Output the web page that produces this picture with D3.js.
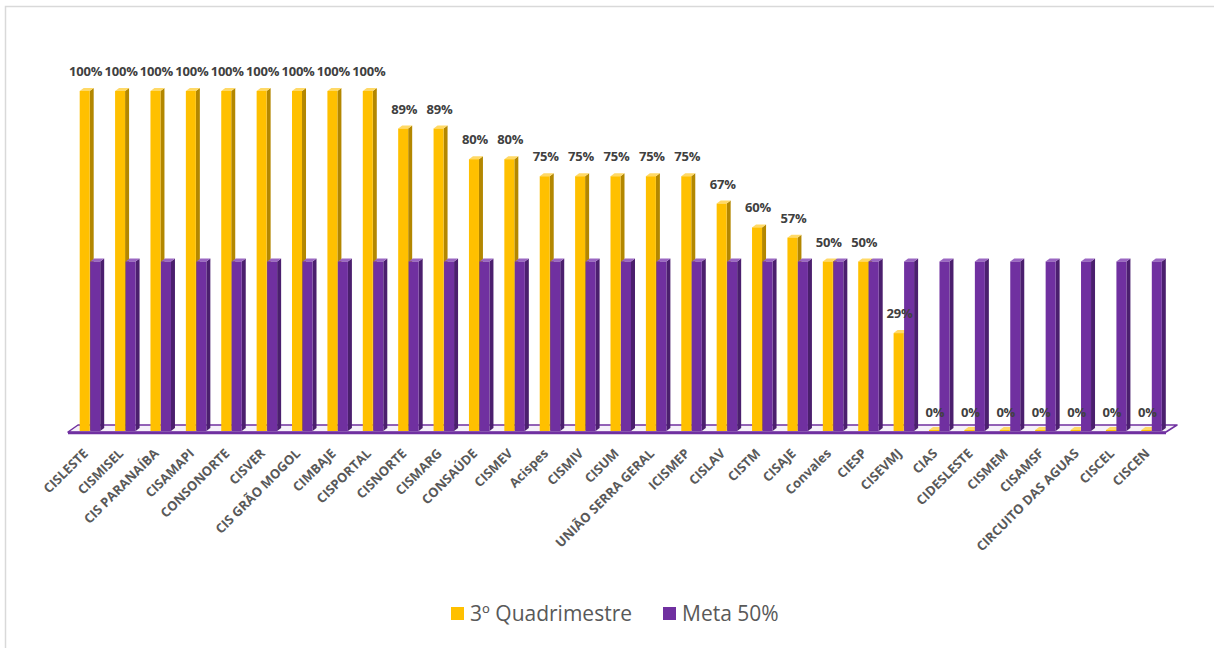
<!DOCTYPE html>
<html>
<head>
<meta charset="utf-8">
<script src="https://cdn.jsdelivr.net/npm/d3@7"></script>
<style>
  body { margin: 0; background: #fff; }
  svg { display: block; font-family: "Open Sans", "Noto Sans", sans-serif; }
</style>
</head>
<body>
<div id="chart"></div>
<script>
// Chart data
const categories = [
    "CISLESTE", "CISMISEL", "CIS PARANAÍBA", "CISAMAPI", "CONSONORTE", "CISVER",
    "CIS GRÃO MOGOL", "CIMBAJE", "CISPORTAL", "CISNORTE", "CISMARG", "CONSAÚDE",
    "CISMEV", "Acispes", "CISMIV", "CISUM", "UNIÃO SERRA GERAL", "ICISMEP",
    "CISLAV", "CISTM", "CISAJE", "Convales", "CIESP", "CISEVMJ", "CIAS",
    "CIDESLESTE", "CISMEM", "CISAMSF", "CIRCUITO DAS AGUAS", "CISCEL", "CISCEN"
];
const quadrimestre = [
    100, 100, 100, 100, 100, 100, 100, 100, 100, 89, 89, 80, 80, 75, 75, 75, 75, 75,
    67, 60, 57, 50, 50, 29, 0, 0, 0, 0, 0, 0, 0
];
const meta = categories.map(() => 50);
const seriesNames = ["3º Quadrimestre", "Meta 50%"];

const colors = {
    "3º Quadrimestre": { front: "#FFC000", side: "#B38700", top: "#FFD966" },
    "Meta 50%": { front: "#7030A0", side: "#4B1F6E", top: "#9A66C2" }
};

const width = 1214, height = 648;
const depthX = 4, depthY = 3;

const svg = d3.select("#chart")
    .append("svg")
    .attr("width", width)
    .attr("height", height);

// chart frame
svg.append("rect")
    .attr("x", 5.5).attr("y", 6.5)
    .attr("width", 1240).attr("height", 680)
    .attr("fill", "#fff")
    .attr("stroke", "#D9D9D9")
    .attr("stroke-width", 1.5);

// scales
const x0 = d3.scaleBand()
    .domain(categories)
    .range([73, 1170]);
const x1 = d3.scaleBand()
    .domain(seriesNames)
    .range([x0.bandwidth() / 2 - 11, x0.bandwidth() / 2 + 10]);
const y = d3.scaleLinear().domain([0, 100]).range([432, 91]);

// floor
const floorFront = y(0);
svg.append("path")
    .attr("d", `M68,${floorFront} L1166,${floorFront} L1177,${floorFront - 7} L78,${floorFront - 7} Z`)
    .attr("fill", "#F6F1FA")
    .attr("stroke", "#7030A0")
    .attr("stroke-width", 1.5)
    .attr("stroke-linejoin", "round");
svg.append("line")
    .attr("x1", 68).attr("x2", 1166)
    .attr("y1", floorFront + 1).attr("y2", floorFront + 1)
    .attr("stroke", "#7030A0")
    .attr("stroke-width", 2.5);

// bars
const rows = categories.map((c, i) => ({
    cat: c,
    values: [
        { key: seriesNames[0], value: quadrimestre[i] },
        { key: seriesNames[1], value: meta[i] }
    ]
}));

const groups = svg.append("g")
    .selectAll("g")
    .data(rows)
    .join("g")
    .attr("transform", d => `translate(${x0(d.cat)},0)`);

const bars = groups.selectAll("g")
    .data(d => d.values)
    .join("g");

const bw = x1.bandwidth() - 0.5;
const base = y(0) - 1;

bars.each(function(d) {
    const g = d3.select(this);
    const bx = x1(d.key);
    const top = Math.min(y(d.value), base - 1);
    const c = colors[d.key];
    // side face
    g.append("path")
        .attr("d", `M${bx + bw},${base} L${bx + bw},${top} L${bx + bw + depthX},${top - depthY} L${bx + bw + depthX},${base - depthY} Z`)
        .attr("fill", c.side);
    // top face
    g.append("path")
        .attr("d", `M${bx},${top} L${bx + bw},${top} L${bx + bw + depthX},${top - depthY} L${bx + depthX},${top - depthY} Z`)
        .attr("fill", c.top);
    // front face
    g.append("rect")
        .attr("x", bx)
        .attr("y", top)
        .attr("width", bw)
        .attr("height", base - top)
        .attr("fill", c.front);
});

// value labels for 3º Quadrimestre
groups.append("text")
    .attr("x", d => x1(seriesNames[0]) + bw / 2 + 1)
    .attr("y", d => y(d.values[0].value) - 15)
    .attr("text-anchor", "middle")
    .attr("fill", "#404040")
    .style("font-size", "13px")
    .style("font-weight", "bold")
    .style("letter-spacing", "-0.2px")
    .text(d => `${d.values[0].value}%`);

// category axis labels
const axisG = svg.append("g")
    .attr("transform", `translate(0,${floorFront + 14})`)
    .call(d3.axisBottom(x0).tickSize(0).tickPadding(0));
axisG.select(".domain").remove();
axisG.selectAll("text")
    .attr("transform", "translate(-5,5) rotate(-45)")
    .attr("dx", "0")
    .attr("dy", "0.35em")
    .attr("text-anchor", "end")
    .attr("fill", "#595959")
    .style("font-size", "13px")
    .style("font-weight", "bold")
    .style("font-family", "'Open Sans', sans-serif");

// legend
const legendData = [
    { key: seriesNames[0], x: 451 },
    { key: seriesNames[1], x: 663 }
];
const legend = svg.append("g");
legendData.forEach(d => {
    legend.append("rect")
        .attr("x", d.x).attr("y", 607)
        .attr("width", 13).attr("height", 13)
        .attr("fill", colors[d.key].front);
    legend.append("text")
        .attr("x", d.x + 19).attr("y", 621)
        .attr("fill", "#595959")
        .style("font-size", "21px")
        .text(d.key);
});
</script>
</body>
</html>
